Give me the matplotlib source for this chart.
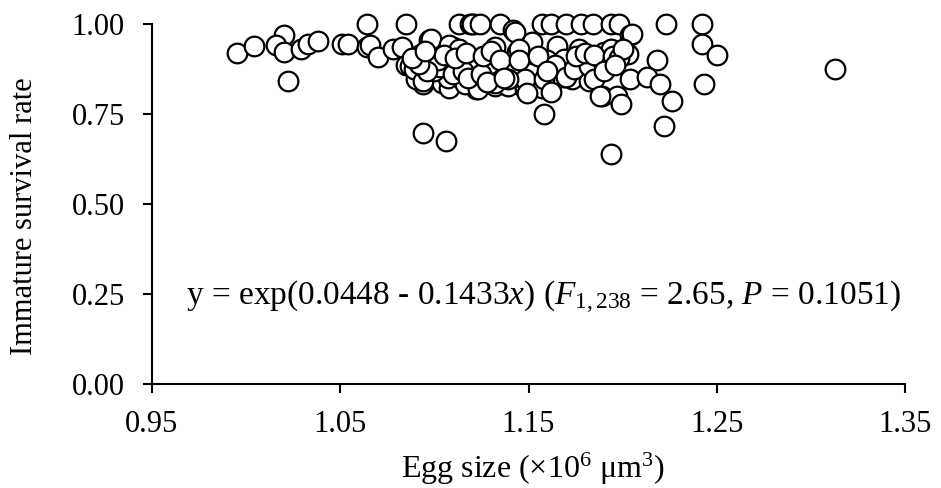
import matplotlib
matplotlib.use("Agg")
import matplotlib.pyplot as plt

plt.rcParams['font.family'] = ['Liberation Serif', 'DejaVu Serif']
plt.rcParams['mathtext.fontset'] = 'custom'
plt.rcParams['mathtext.rm'] = 'Liberation Serif'
plt.rcParams['mathtext.it'] = 'Liberation Serif:italic'

# egg size (x10^6 um^3) and immature survival rate
egg_size = [
    0.995, 1.004, 1.020, 1.016, 1.020, 1.022, 1.029, 1.033, 1.038, 1.051,
    1.054, 1.064, 1.064, 1.066, 1.070, 1.078, 1.085, 1.083, 1.085, 1.092,
    1.097, 1.099, 1.094, 1.094, 1.104, 1.108, 1.106, 1.112, 1.113, 1.119,
    1.121, 1.110, 1.116, 1.123, 1.122, 1.119, 1.094, 1.106, 1.087, 1.090,
    1.120, 1.124, 1.135, 1.142, 1.157, 1.162, 1.170, 1.178, 1.184, 1.194,
    1.198, 1.204, 1.098, 1.108, 1.113, 1.132, 1.144, 1.152, 1.152, 1.163,
    1.165, 1.169, 1.177, 1.181, 1.192, 1.193, 1.203, 1.204, 1.189, 1.197,
    1.199, 1.158, 1.194, 1.089, 1.094, 1.107, 1.116, 1.123, 1.132, 1.139,
    1.148, 1.157, 1.164, 1.173, 1.142, 1.151, 1.182, 1.170, 1.136, 1.205,
    1.223, 1.242, 1.242, 1.250, 1.218, 1.213, 1.220, 1.226, 1.222, 1.243,
    1.313, 1.143, 1.165, 1.190, 1.145, 1.160, 1.169, 1.164, 1.142, 1.129,
    1.148, 1.139, 1.132, 1.158, 1.170, 1.174, 1.182, 1.185, 1.189, 1.162,
    1.149, 1.188, 1.194, 1.100, 1.103, 1.110, 1.115, 1.118, 1.125, 1.128,
    1.102, 1.105, 1.111, 1.117, 1.126, 1.130, 1.135, 1.137, 1.145, 1.155,
    1.160, 1.175, 1.180, 1.185, 1.195, 1.198, 1.200, 1.190, 1.196, 1.096,
    1.092, 1.088, 1.095,
]
survival = [
    0.920, 0.940, 0.970, 0.942, 0.923, 0.841, 0.930, 0.945, 0.953, 0.945,
    0.945, 1.000, 0.937, 0.942, 0.909, 0.930, 1.000, 0.937, 0.887, 0.915,
    0.956, 0.904, 0.854, 0.832, 0.835, 0.821, 0.876, 0.887, 1.000, 1.000,
    1.000, 0.937, 0.909, 0.896, 0.819, 0.835, 0.698, 0.676, 0.882, 0.846,
    1.000, 1.000, 1.000, 0.984, 1.000, 1.000, 1.000, 1.000, 1.000, 1.000,
    1.000, 0.970, 0.958, 0.942, 0.930, 0.937, 0.923, 0.950, 0.876, 0.895,
    0.930, 0.854, 0.930, 0.890, 0.923, 0.895, 0.917, 0.846, 0.800, 0.800,
    0.777, 0.750, 0.640, 0.876, 0.841, 0.849, 0.832, 0.819, 0.827, 0.827,
    0.819, 0.821, 0.846, 0.846, 0.854, 0.863, 0.841, 0.882, 0.874, 0.973,
    1.000, 1.000, 0.945, 0.915, 0.900, 0.854, 0.832, 0.786, 0.717, 0.832,
    0.874, 0.978, 0.938, 0.923, 0.930, 0.900, 0.904, 0.887, 0.882, 0.889,
    0.846, 0.846, 0.835, 0.846, 0.854, 0.876, 0.882, 0.846, 0.900, 0.810,
    0.808, 0.800, 0.930, 0.870, 0.880, 0.860, 0.870, 0.850, 0.860, 0.840,
    0.900, 0.915, 0.905, 0.920, 0.910, 0.925, 0.900, 0.850, 0.900, 0.910,
    0.870, 0.910, 0.920, 0.915, 0.910, 0.905, 0.930, 0.870, 0.885, 0.870,
    0.890, 0.905, 0.925,
]

x_ticks = [0.95, 1.05, 1.15, 1.25, 1.35]
y_ticks = [0.00, 0.25, 0.50, 0.75, 1.00]
fit_text = (r'y = exp(0.0448 - 0.1433$\it{x}$) '
            r'($\it{F}_{\rm{1,238}}$ = 2.65, $\it{P}$ = 0.1051)')

fig = plt.figure(figsize=(9.41, 4.88), dpi=100)
ax = fig.add_axes([0.1615, 0.2131, 0.8003, 0.7377])

ax.scatter(egg_size, survival, s=200, facecolors='white', edgecolors='black',
           linewidths=1.6, clip_on=False, zorder=3)

ax.set_xlim(0.95, 1.35)
ax.set_ylim(0, 1.0)
ax.set_xticks(x_ticks)
ax.set_xticklabels(['%.2f' % t for t in x_ticks])
ax.set_yticks(y_ticks)
ax.set_yticklabels(['%.2f' % t for t in y_ticks])

for side in ['top', 'right']:
    ax.spines[side].set_visible(False)
for side in ['left', 'bottom']:
    ax.spines[side].set_linewidth(1.5)
ax.tick_params(direction='out', length=6.5, width=1.5, labelsize=22,
               colors='black')
ax.tick_params(axis='x', pad=12)
ax.tick_params(axis='y', pad=13)

ax.set_xlabel(r'Egg size ($\times$10$^{6}$ $\mathrm{\mu}$m$^{3}$)', fontsize=23,
              va='center')
ax.set_ylabel('Immature survival rate', fontsize=22)
ax.xaxis.set_label_coords(0.506, -0.236)
ax.yaxis.set_label_coords(-0.150, 0.467)

ax.text(0.52, 0.242, fit_text, transform=ax.transAxes, ha='center',
        va='center', fontsize=24)

fig.savefig('out.png', dpi=100)
